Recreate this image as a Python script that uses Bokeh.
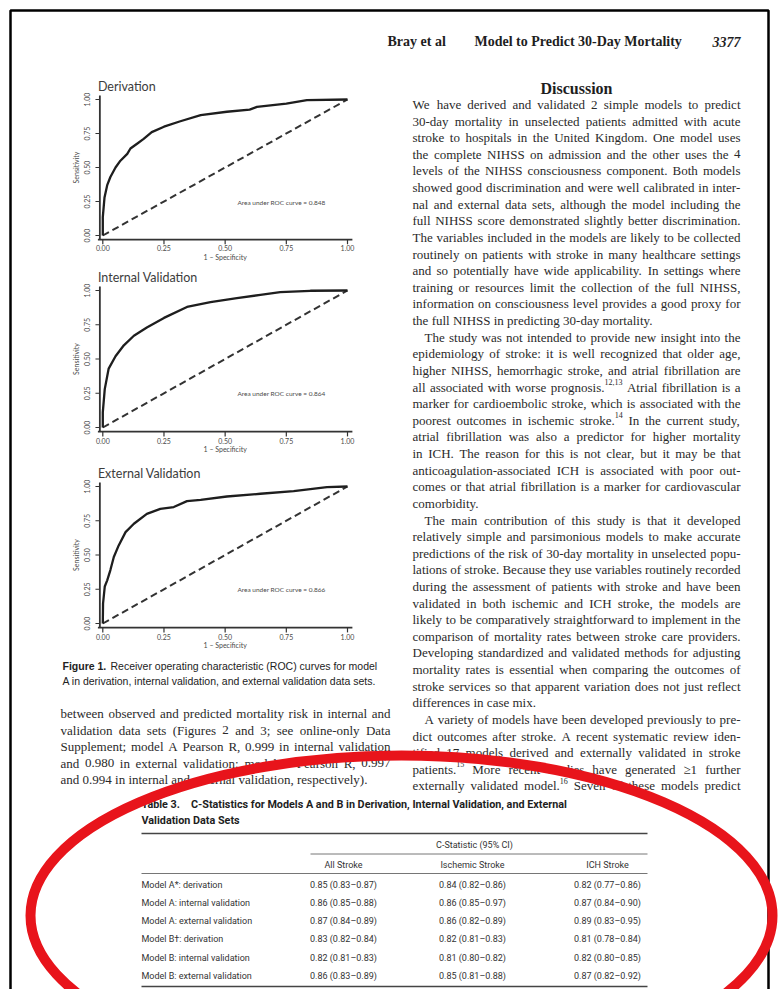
import math
from bokeh.plotting import figure
from bokeh.models import Range1d
from bokeh.core.properties import value
from bokeh.embed import file_html
from bokeh.resources import INLINE

# ------------------------------------------------------------------ data
roc_titles = ["Derivation", "Internal Validation", "External Validation"]
roc_auc = [0.848, 0.864, 0.866]

deriv_fpr = [0.0, 0.0, 0.007, 0.018, 0.031, 0.052, 0.072, 0.10, 0.113, 0.14, 0.167,
             0.20, 0.25, 0.317, 0.40, 0.507, 0.60, 0.63, 0.75, 0.834, 1.0]
deriv_tpr = [0.0, 0.135, 0.28, 0.37, 0.43, 0.50, 0.55, 0.60, 0.64, 0.675, 0.71,
             0.76, 0.80, 0.84, 0.885, 0.91, 0.926, 0.946, 0.97, 0.995, 1.0]

intval_fpr = [0.0, 0.0, 0.008, 0.024, 0.052, 0.086, 0.127, 0.18, 0.25, 0.344, 0.44,
              0.548, 0.644, 0.725, 0.848, 1.0]
intval_tpr = [0.0, 0.11, 0.28, 0.43, 0.52, 0.60, 0.67, 0.73, 0.80, 0.88, 0.915,
              0.944, 0.968, 0.988, 0.998, 1.0]

extval_fpr = [0.0, 0.001, 0.008, 0.018, 0.031, 0.045, 0.065, 0.093, 0.127, 0.18, 0.235,
              0.29, 0.344, 0.40, 0.507, 0.644, 0.78, 0.916, 1.0]
extval_tpr = [0.0, 0.146, 0.27, 0.315, 0.39, 0.485, 0.57, 0.667, 0.728, 0.80, 0.837,
              0.85, 0.893, 0.903, 0.927, 0.947, 0.966, 0.995, 1.0]

ticks = [0.0, 0.25, 0.5, 0.75, 1.0]
tick_labels = ["0.00", "0.25", "0.50", "0.75", "1.00"]

table_rows = ["Model A*: derivation", "Model A: internal validation", "Model A: external validation",
              "Model B\u2020: derivation", "Model B: internal validation", "Model B: external validation"]
table_groups = ["All Stroke", "Ischemic Stroke", "ICH Stroke"]
all_est = [0.85, 0.86, 0.87, 0.83, 0.82, 0.86]
all_lo = [0.83, 0.85, 0.84, 0.82, 0.81, 0.83]
all_hi = [0.87, 0.88, 0.89, 0.84, 0.83, 0.89]
isch_est = [0.84, 0.86, 0.86, 0.82, 0.81, 0.85]
isch_lo = [0.82, 0.85, 0.82, 0.81, 0.80, 0.81]
isch_hi = [0.86, 0.97, 0.89, 0.83, 0.82, 0.88]
ich_est = [0.82, 0.87, 0.89, 0.81, 0.82, 0.87]
ich_lo = [0.77, 0.84, 0.83, 0.78, 0.80, 0.82]
ich_hi = [0.86, 0.90, 0.95, 0.84, 0.85, 0.92]

right_lines = [
    "We have derived and validated 2 simple models to predict",
    "30-day mortality in unselected patients admitted with acute",
    "stroke to hospitals in the United Kingdom. One model uses",
    "the complete NIHSS on admission and the other uses the 4",
    "levels of the NIHSS consciousness component. Both models",
    "showed good discrimination and were well calibrated in inter-",
    "nal and external data sets, although the model including the",
    "full NIHSS score demonstrated slightly better discrimination.",
    "The variables included in the models are likely to be collected",
    "routinely on patients with stroke in many healthcare settings",
    "and so potentially have wide applicability. In settings where",
    "training or resources limit the collection of the full NIHSS,",
    "information on consciousness level provides a good proxy for",
    "the full NIHSS in predicting 30-day mortality.",
    "The study was not intended to provide new insight into the",
    "epidemiology of stroke: it is well recognized that older age,",
    "higher NIHSS, hemorrhagic stroke, and atrial fibrillation are",
    "all associated with worse prognosis.^12,13 Atrial fibrillation is a",
    "marker for cardioembolic stroke, which is associated with the",
    "poorest outcomes in ischemic stroke.^14 In the current study,",
    "atrial fibrillation was also a predictor for higher mortality",
    "in ICH. The reason for this is not clear, but it may be that",
    "anticoagulation-associated ICH is associated with poor out-",
    "comes or that atrial fibrillation is a marker for cardiovascular",
    "comorbidity.",
    "The main contribution of this study is that it developed",
    "relatively simple and parsimonious models to make accurate",
    "predictions of the risk of 30-day mortality in unselected popu-",
    "lations of stroke. Because they use variables routinely recorded",
    "during the assessment of patients with stroke and have been",
    "validated in both ischemic and ICH stroke, the models are",
    "likely to be comparatively straightforward to implement in the",
    "comparison of mortality rates between stroke care providers.",
    "Developing standardized and validated methods for adjusting",
    "mortality rates is essential when comparing the outcomes of",
    "stroke services so that apparent variation does not just reflect",
    "differences in case mix.",
    "A variety of models have been developed previously to pre-",
    "dict outcomes after stroke. A recent systematic review iden-",
    "tified 17 models derived and externally validated in stroke",
    "patients.^15 More recent studies have generated \u22651 further",
    "externally validated model.^16 Seven of these models predict",
]
right_indent_idx = [14, 25, 37]
right_last_idx = [13, 24, 36]

left_lines = [
    "between observed and predicted mortality risk in internal and",
    "validation data sets (Figures 2 and 3; see online-only Data",
    "Supplement; model A Pearson R, 0.999 in internal validation",
    "and 0.980 in external validation; model B Pearson R, 0.997",
    "and 0.994 in internal and external validation, respectively).",
]
left_last_idx = [4]

# ------------------------------------------------------------------ helpers
TIMES = {' ': 250, '(': 333, ')': 333, ',': 250, '-': 333, '.': 250, ':': 278, ';': 278,
         '\u2265': 549, '\u2013': 500, '*': 500,
         'A': 722, 'B': 667, 'C': 667, 'D': 722, 'E': 611, 'F': 556, 'G': 722, 'H': 722,
         'I': 333, 'J': 389, 'K': 722, 'L': 611, 'M': 889, 'N': 722, 'O': 722, 'P': 556,
         'Q': 722, 'R': 667, 'S': 556, 'T': 611, 'U': 722, 'V': 722, 'W': 944, 'X': 722,
         'Y': 722, 'Z': 611,
         'a': 444, 'b': 500, 'c': 444, 'd': 500, 'e': 444, 'f': 333, 'g': 500, 'h': 500,
         'i': 278, 'j': 278, 'k': 500, 'l': 278, 'm': 778, 'n': 500, 'o': 500, 'p': 500,
         'q': 500, 'r': 333, 's': 389, 't': 278, 'u': 500, 'v': 500, 'w': 722, 'x': 500,
         'y': 500, 'z': 444}


def tw(s):
    return sum(TIMES.get(c, 500) for c in s)


def set_paragraph(lines, x0, x1, y0, dy, size, indent_idx, last_idx, indent=12):
    words = dict(x=[], y=[], t=[])
    sups = dict(x=[], y=[], t=[])
    for i, line in enumerate(lines):
        y = y0 + i * dy
        left = x0 + (indent if i in indent_idx else 0)
        parts = []
        for w in line.split(" "):
            main, sup = (w.split("^") + [""])[:2]
            parts.append((main, sup, tw(main) * size / 1000.0, tw(sup) * size * 0.62 / 1000.0))
        total = sum(p[2] + p[3] for p in parts)
        n = len(parts)
        if i not in last_idx and n > 1:
            gap = (x1 - left - total) / (n - 1)
        else:
            gap = 250 * size / 1000.0
        x = left
        for main, sup, wm, ws in parts:
            words["x"].append(x); words["y"].append(y); words["t"].append(main)
            if sup:
                sups["x"].append(x + wm); sups["y"].append(y - 0.38 * size); sups["t"].append(sup)
            x += wm + ws + gap
    return words, sups


SERIF = value("Liberation Serif")
SANS = value("Liberation Sans")
TABF = value("Roboto")
FIGF = value("Lato")
BODY = "#2a2a2a"

# ------------------------------------------------------------------ page
p = figure(width=778, height=989, x_range=Range1d(0, 778), y_range=Range1d(989, 0),
           output_backend="svg", toolbar_location=None, min_border=0,
           x_axis_location=None, y_axis_location=None,
           background_fill_color="white", border_fill_color="white", outline_line_color=None)
p.grid.grid_line_color = None

# page frame
p.line(x=[10, 10, 768, 768], y=[1000, 10, 10, 1000], line_color="black", line_width=2.5)

# running head
p.text(x=[387], y=[41], text=["Bray et al"], text_font=SERIF, text_font_style="bold",
       text_font_size="14px", text_baseline="middle", text_color="#1e1e1e")
p.text(x=[474], y=[41], text=["Model to Predict 30-Day Mortality"], text_font=SERIF,
       text_font_style="bold", text_font_size="14px", text_baseline="middle", text_color="#1e1e1e")
p.text(x=[712], y=[41], text=["3377"], text_font=SERIF, text_font_style="bold italic",
       text_font_size="14px", text_baseline="middle", text_color="#1e1e1e")

# Discussion heading
p.text(x=[576], y=[88], text=["Discussion"], text_font=SERIF, text_font_style="bold",
       text_font_size="16px", text_align="center", text_baseline="middle", text_color="#1e1e1e")

# body text, right column
rw, rs = set_paragraph(right_lines, 412, 740, 104, 16.62, 13, right_indent_idx, right_last_idx)
p.text(x=rw["x"], y=rw["y"], text=rw["t"], text_font=SERIF, text_font_size="13px",
       text_baseline="middle", text_color=BODY)
p.text(x=rs["x"], y=rs["y"], text=rs["t"], text_font=SERIF, text_font_size="8px",
       text_baseline="middle", text_color=BODY)

# body text, left column
lw, ls = set_paragraph(left_lines, 60, 390, 713, 16.62, 13, [], left_last_idx)
p.text(x=lw["x"], y=lw["y"], text=lw["t"], text_font=SERIF, text_font_size="13px",
       text_baseline="middle", text_color=BODY)

# ------------------------------------------------------------------ ROC panels
curves = [(deriv_fpr, deriv_tpr), (intval_fpr, intval_tpr), (extval_fpr, extval_tpr)]
panel_y = [(235, 99), (427, 290), (623, 486)]
GRAY = "#4a4a4a"
for k in range(3):
    sub = p.subplot(x_source=Range1d(0, 1), y_source=Range1d(0, 1),
                    x_target=Range1d(102.3, 347.0), y_target=Range1d(*panel_y[k]))
    # axes
    sub.segment(x0=[-0.02], y0=[-0.03], x1=[1.02], y1=[-0.03], line_color="#333", line_width=1.8)
    sub.segment(x0=[-0.012], y0=[-0.03], x1=[-0.012], y1=[1.03], line_color="#333", line_width=1.8)
    sub.segment(x0=ticks, y0=[-0.03] * 5, x1=ticks, y1=[-0.065] * 5, line_color="#333", line_width=1.2)
    sub.segment(x0=[-0.012] * 5, y0=ticks, x1=[-0.03] * 5, y1=ticks, line_color="#333", line_width=1.2)
    sub.text(x=ticks, y=[-0.095] * 5, text=tick_labels, text_font=FIGF, text_font_size="7px",
             text_align="center", text_baseline="middle", text_color=GRAY)
    sub.text(x=[-0.063] * 5, y=ticks, text=tick_labels, text_font=FIGF, text_font_size="7px",
             text_align="center", text_baseline="middle", angle=math.pi / 2, text_color=GRAY)
    sub.text(x=[0.5], y=[-0.155], text=["1 \u2013 Specificity"], text_font=FIGF,
             text_font_size="7px", text_align="center", text_baseline="middle", text_color=GRAY)
    sub.text(x=[-0.11], y=[0.5], text=["Sensitivity"], text_font=FIGF, text_font_size="7px",
             text_align="center", text_baseline="middle", angle=math.pi / 2, text_color=GRAY)
    sub.text(x=[-0.02], y=[1.095], text=[roc_titles[k]], text_font=FIGF, text_font_size="12.5px",
             text_baseline="middle", text_color="#3c3c3c")
    sub.text(x=[0.55], y=[0.245], text=["Area under ROC curve = %.3f" % roc_auc[k]], text_font=FIGF,
             text_font_size="6.5px", text_baseline="middle", text_color=GRAY)
    # reference diagonal and curve
    sub.line(x=[0, 1], y=[0, 1], line_color="#333", line_width=2.0, line_dash="7 4")
    sub.line(x=curves[k][0], y=curves[k][1], line_color="#1e1e1e", line_width=2.3)

# caption
p.text(x=[62], y=[665], text=["Figure 1."], text_font=SANS, text_font_style="bold",
       text_font_size="10.5px", text_baseline="middle", text_color="#222")
p.text(x=[110], y=[665], text=["Receiver operating characteristic (ROC) curves for model"],
       text_font=SANS, text_font_size="10.5px", text_baseline="middle", text_color="#222")
p.text(x=[62], y=[680], text=["A in derivation, internal validation, and external validation data sets."],
       text_font=SANS, text_font_size="10.5px", text_baseline="middle", text_color="#222")

# ------------------------------------------------------------------ table
TCOL = "#333"
TSIZE = "9px"
p.text(x=[141], y=[804],
       text=["Table 3.\u2003C-Statistics for Models A and B in Derivation, Internal Validation, and External"],
       text_font=TABF, text_font_style="bold", text_font_size="10.8px", text_baseline="middle",
       text_color="#1e1e1e")
p.text(x=[141], y=[820], text=["Validation Data Sets"], text_font=TABF, text_font_style="bold",
       text_font_size="10.8px", text_baseline="middle", text_color="#1e1e1e")
p.segment(x0=[141], y0=[833], x1=[647], y1=[833], line_color="#444", line_width=1.6)
p.text(x=[474], y=[844], text=["C-Statistic (95% CI)"], text_font=TABF, text_font_size=TSIZE,
       text_align="center", text_baseline="middle", text_color=TCOL)
p.segment(x0=[310], y0=[853.5], x1=[647], y1=[853.5], line_color="#666", line_width=0.9)
col_x = [343, 472, 607]
p.text(x=col_x, y=[864] * 3, text=table_groups, text_font=TABF, text_font_size=TSIZE,
       text_align="center", text_baseline="middle", text_color=TCOL)
p.segment(x0=[141], y0=[873], x1=[647], y1=[873], line_color="#666", line_width=0.9)

row_y = [884 + 18.3 * i for i in range(len(table_rows))]
p.text(x=[141] * len(table_rows), y=row_y, text=table_rows, text_font=TABF, text_font_size=TSIZE,
       text_baseline="middle", text_color=TCOL)
for cx, est, lo, hi in [(col_x[0], all_est, all_lo, all_hi),
                        (col_x[1], isch_est, isch_lo, isch_hi),
                        (col_x[2], ich_est, ich_lo, ich_hi)]:
    cells = ["%.2f (%.2f\u2013%.2f)" % (e, l, h) for e, l, h in zip(est, lo, hi)]
    p.text(x=[cx] * len(cells), y=row_y, text=cells, text_font=TABF, text_font_size=TSIZE,
           text_align="center", text_baseline="middle", text_color=TCOL)
p.segment(x0=[141], y0=[986], x1=[647], y1=[986], line_color="#444", line_width=1.6)

# red highlight ellipse
p.ellipse(x=[401], y=[915], width=[742], height=[320], fill_color=None,
          line_color="#e8141b", line_width=10)

open("out.html", "w").write(file_html(p, INLINE))
